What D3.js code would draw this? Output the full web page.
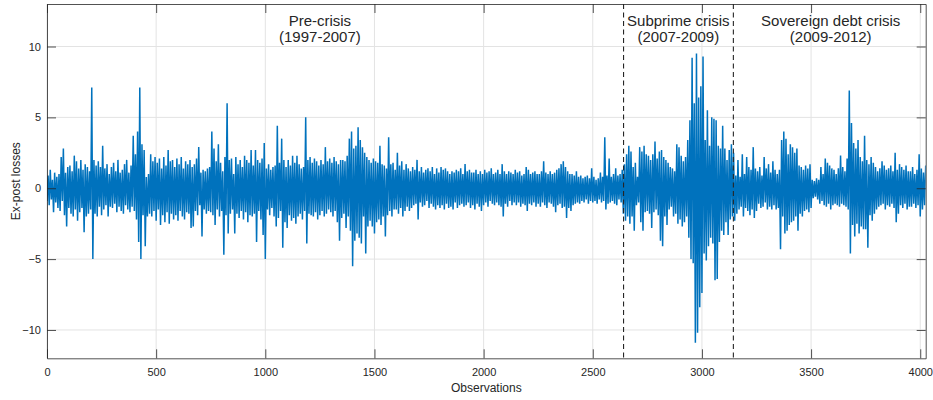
<!DOCTYPE html>
<html>
<head>
<meta charset="utf-8">
<script src="https://cdn.jsdelivr.net/npm/d3@7"></script>
<style>
  body { margin: 0; background: #fff; }
  svg { display: block; }
  text { font-family: "Liberation Sans", Arial, Helvetica, sans-serif; fill: #262626; }
</style>
</head>
<body>
<svg id="chart" width="933" height="400"></svg>
<script>
// Ex-post losses, one value kept every `obsStep` observations
const obsStep = 5;
const losses = [
  -0.9,
  0.9, -1.2, 1.3, -0.8, 0.6, -1.7, 1.1, -1.0, 0.8, -1.4,
  1.0, -1.6, 2.2, -0.9, 2.8, -1.9, 1.1, -2.7, 1.5, -1.4,
  1.6, -1.8, 1.2, -2.0, 2.3, -1.5, 1.9, -2.3, 1.4, -1.7,
  2.0, -1.4, 1.3, -3.1, 1.7, -2.0, 1.5, -1.8, 1.2, -1.5,
  7.1, -5.0, 2.0, -1.8, 1.6, -2.0, 1.9, -1.3, 1.5,
  -1.9, 3.0, -1.5, 1.4, -1.2, 1.7, -2.0, 1.0, -1.3, 1.5,
  -1.4, 1.8, -1.1, 1.2, -1.7, 2.0, -1.3, 1.1, -1.6, 1.3,
  -1.8, 1.7, -1.2, 2.0, -1.5, 1.1, -1.7, 1.6, -1.3, 3.7,
  -1.6, 2.4, -2.2, 4.0, -3.8, 7.1, -5.0, 3.1, -1.9, 2.7,
  -4.1, 0.8, -2.0, 1.0, -1.8, 2.4, -2.0, 1.9, -1.6, 2.2,
  -2.3, 1.8, -1.5, 2.1, -2.6, 1.4, -1.9, 2.2, -2.4, 1.6,
  -1.7, 2.7, -2.5, 1.9, -1.8, 2.0, -2.2, 1.5, -1.9, 2.1,
  -2.3, 1.7, -1.6, 2.2, -2.0, 1.4, -2.2, 1.9, -1.7, 1.7,
  -1.8, 2.0, -2.8, 1.5, -2.7, 1.7, -1.6, 2.1, -1.9, 2.9,
  -1.2, 1.1, -3.4, 1.3, -1.5, 1.2, -1.8, 1.4, -1.6, 1.5,
  -1.7, 4.0, -1.9, 2.8, -2.6, 1.9, -1.5, 3.1, -2.0, 1.8,
  -1.6, 1.2, -4.7, 2.2, -1.9, 6.0, -3.2, 2.0, -1.8, 2.1,
  -1.5, 1.0, -3.2, 2.2, -1.8, 1.7, -2.1, 2.0, -1.6, 1.5,
  -2.2, 2.3, -1.7, 2.0, -2.4, 1.8, -1.9, 2.7, -2.0, 1.6,
  -1.8, 2.7, -3.8, 2.0, -1.6, 1.8, -2.2, 2.1, -3.3, 3.2,
  -5.0, 1.4, -1.5, 1.7, -1.9, 1.3, -1.4, 1.5, -2.0, 1.6,
  -2.7, 4.4, -2.1, 1.8, -1.6, 3.5, -4.2, 2.0, -2.4, 1.5,
  -2.8, 2.0, -1.9, 1.6, -2.3, 2.3, -2.1, 1.8, -2.5, 2.3,
  -2.0, 1.7, -1.8, 1.4, -2.2, 1.5, -1.6, 5.0, -3.9, 2.0,
  -1.8, 2.2, -1.9, 1.8, -2.0, 2.1, -1.7, 1.9, -2.2, 1.6,
  -1.9, 2.0, -1.6, 1.7, -2.0, 2.9, -1.8, 1.9, -1.5, 2.1,
  -1.7, 1.8, -2.0, 2.2, -1.6, 1.9, -2.4, 1.7, -3.7, 2.0,
  -2.1, 2.0, -1.8, 1.9, -2.8, 2.3, -2.0, 3.5, -3.0, 4.0,
  -5.5, 2.8, -3.7, 3.0, -3.2, 4.3, -3.5, 3.4, -3.9, 2.9,
  -2.0, 2.5, -4.6, 2.2, -2.7, 2.0, -2.3, 1.8, -2.7, 2.1,
  -3.2, 1.9, -2.4, 1.8, -2.2, 3.0, -2.6, 1.7, -2.0, 1.6,
  -3.4, 1.4, -1.9, 3.6, -1.6, 1.7, -2.0, 1.8, -1.5, 1.3,
  -1.5, 2.5, -1.8, 1.6, -1.4, 1.9, -2.0, 1.3, -1.6, 1.7,
  -1.3, 1.4, -1.6, 1.2, -1.4, 1.5, -1.2, 1.3, -1.1, 2.0,
  -2.2, 1.2, -1.0, 1.5, -1.3, 1.1, -1.2, 1.3, -0.9, 1.4,
  -1.4, 1.2, -1.1, 1.5, -1.3, 1.0, -1.5, 1.4, -1.2, 1.1,
  -1.4, 1.5, -1.2, 1.3, -1.5, 1.4, -1.1, 1.2, -1.4, 1.0,
  -1.3, 1.2, -1.5, 1.1, -1.0, 1.3, -1.4, 1.2, -1.2, 1.4,
  -1.1, 1.0, -1.3, 1.7, -1.2, 1.2, -1.0, 1.3, -1.4, 1.1,
  -1.2, 1.1, -1.5, 1.3, -1.1, 1.0, -1.3, 1.2, -1.6, 1.0,
  -1.2, 1.3, -1.0, 1.1, -1.3, 1.2, -0.9, 1.4, -1.1, 1.0,
  -1.2, 1.1, -1.0, 1.3, -1.2, 1.0, -1.3, 1.7, -2.0, 1.2,
  -1.1, 1.0, -1.3, 1.2, -0.9, 1.1, -1.2, 1.0, -1.0, 1.3,
  -1.2, 1.1, -1.0, 1.2, -1.3, 0.9, -1.1, 1.0, -1.2, 1.5,
  -1.6, 1.3, -1.1, 1.0, -1.2, 1.1, -1.0, 1.2, -1.3, 1.0,
  -1.1, 1.0, -1.3, 1.2, -1.0, 1.9, -1.2, 1.1, -1.4, 1.0,
  -1.0, 1.2, -1.1, 1.0, -1.3, 1.1, -1.7, 1.3, -1.2, 1.4,
  -1.1, 1.7, -1.4, 1.9, -1.3, 1.5, -2.1, 1.2, -1.4, 1.0,
  -1.6, 1.0, -1.2, 0.9, -1.1, 1.2, -1.0, 0.8, -1.1, 0.9,
  -0.9, 0.7, -1.0, 0.8, -0.8, 0.9, -1.1, 0.7, -0.9, 1.4,
  -1.0, 0.8, -0.9, 0.6, -1.1, 0.7, -0.8, 1.1, -1.0, 0.8,
  -0.9, 3.6, -1.5, 0.9, -1.1, 2.1, -1.0, 0.8, -0.9, 1.0,
  -1.1, 1.4, -1.2, 0.9, -0.8, 1.0, -1.0, 1.3, -1.8, 1.7,
  -2.3, 2.4, -2.0, 3.0, -2.5, 2.6, -2.0, 1.5, -3.0, 1.8,
  -1.2, 0.8, -1.0, 2.9, -2.4, 2.6, -3.0, 3.0, -1.7, 2.4,
  -1.6, 2.3, -1.8, 2.0, -2.8, 2.4, -1.7, 3.3, -1.5, 2.1,
  -1.9, 2.6, -3.7, 2.7, -4.1, 2.2, -2.0, 2.0, -2.6, 1.8,
  -1.5, 1.5, -1.3, 1.4, -2.0, 1.2, -1.8, 3.1, -2.5, 2.9,
  -2.2, 2.3, -2.7, 1.9, -2.4, 2.2, -2.0, 3.4, -3.5, 4.8,
  -5.0,
  9.2, -5.3, 6.0, -10.9, 9.5, -10.2, 6.4, -8.4, 7.2, -7.4,
  9.3, -4.6, 3.4, -5.1, 5.5, -4.1, 3.0, -3.5, 5.0, -3.9,
  4.9, -6.5, 4.8, -6.4, 3.0, -3.8, 2.8, -3.0, 4.4, -3.3,
  2.8, -2.4, 2.0, -3.3, 2.7, -2.2, 3.1, -2.0, 2.5, -2.3,
  0.9, -1.8, 2.0, -1.5, 0.8, -1.3, 2.4, -2.0, 1.0, -1.4,
  2.2, -1.6, 1.5, -1.9, 1.3, -1.5, 2.9, -2.1, 1.4, -1.6,
  1.2, -1.1, 1.5, -1.4, 0.9, -1.3, 2.2, -1.0, 1.4, -1.5,
  1.7, -1.3, 1.1, -1.5, 1.9, -1.2, 1.3, -1.5, 1.0, -1.4,
  1.3, -4.3, 3.4, -2.0, 4.0, -3.2, 3.5, -3.0, 2.4, -2.6,
  3.1, -2.4, 2.9, -2.3, 2.5, -2.0, 2.8, -3.0, 1.6, -1.8,
  1.5, -2.0, 1.3, -1.6, 1.6, -1.5, 1.4, -1.7, 1.7, -1.4,
  0.6, -0.7, 0.5, -0.6, 0.7, -0.8, 0.6, -1.1, 1.5, -0.9,
  1.0, -1.2, 2.1, -1.3, 1.8, -1.1, 1.6, -1.5, 1.4, -1.2,
  1.3, -1.1, 1.0, -1.2, 1.4, -1.3, 2.3, -1.1, 1.5, -1.2,
  1.2, -1.3, 2.1, -1.5, 6.9, -4.6, 4.6, -2.6, 3.2, -3.4,
  2.8, -2.5, 3.4, -3.2, 2.2, -2.7, 1.9, -2.9, 3.7, -2.9,
  2.0, -4.2, 1.7, -1.9, 2.2, -2.3, 1.8, -1.8, 1.5, -1.5,
  1.2, -1.3, 1.4, -1.2, 1.9, -1.1, 1.6, -1.5, 1.3, -1.2,
  1.4, -1.3, 1.6, -1.1, 1.2, -1.4, 2.5, -2.4, 1.3, -1.8,
  1.7, -1.2, 1.5, -1.4, 1.3, -1.1, 1.6, -1.5, 1.2, -1.3,
  1.2, -1.3, 1.5, -1.1, 1.0, -1.4, 1.3, -1.2, 2.4, -2.0,
  1.4, -1.5, 1.1, -1.2, 1.6
];

const xTicks = [0, 500, 1000, 1500, 2000, 2500, 3000, 3500, 4000];
const yTicks = [-10, -5, 0, 5, 10];
const xDomain = [0, 4025];
const yDomain = [-12, 13];

// Observations where the crisis periods begin
const crisisBreaks = [2641, 3144];
const periodNames = ["Pre-crisis", "Subprime crisis", "Sovereign debt crisis"];
const periodYears = ["(1997-2007)", "(2007-2009)", "(2009-2012)"];
const periodLabelAt = [1250, 2892, 3590];

const W = 933, H = 400;
const margin = { left: 47, right: 7.3, top: 4, bottom: 41.7 };
const x0 = margin.left, x1 = W - margin.right;
const y0 = H - margin.bottom, y1 = margin.top;

const x = d3.scaleLinear().domain(xDomain).range([x0, x1]);
const y = d3.scaleLinear().domain(yDomain).range([y0, y1]);

const svg = d3.select("#chart");

svg.append("defs").append("clipPath").attr("id", "plot-clip")
  .append("rect").attr("x", x0).attr("y", y1).attr("width", x1 - x0).attr("height", y0 - y1);

// grid
const grid = svg.append("g").attr("stroke", "#e3e3e3").attr("stroke-width", 1);
grid.selectAll("line.gx").data(xTicks).join("line")
  .attr("x1", d => x(d)).attr("x2", d => x(d)).attr("y1", y1).attr("y2", y0);
grid.selectAll("line.gy").data(yTicks).join("line")
  .attr("x1", x0).attr("x2", x1).attr("y1", d => y(d)).attr("y2", d => y(d));

// series
const series = losses.map((v, i) => ({ obs: i * obsStep, v }));
svg.append("path")
  .datum(series)
  .attr("clip-path", "url(#plot-clip)")
  .attr("fill", "none")
  .attr("stroke", "#0072BD")
  .attr("stroke-width", 1.5)
  .attr("stroke-linejoin", "bevel")
  .attr("d", d3.line().x(d => x(d.obs)).y(d => y(d.v)));

// crisis boundaries
svg.append("g").selectAll("line").data(crisisBreaks).join("line")
  .attr("x1", d => x(d)).attr("x2", d => x(d))
  .attr("y1", y1).attr("y2", y0)
  .attr("stroke", "#262626").attr("stroke-width", 1.1)
  .attr("stroke-dasharray", "5,3.5");

// period labels
const labels = svg.append("g").attr("text-anchor", "middle").style("font-size", "15px");
labels.selectAll("text.name").data(periodNames).join("text")
  .attr("x", (d, i) => x(periodLabelAt[i])).attr("y", 26).text(d => d);
labels.selectAll("text.years").data(periodYears).join("text")
  .attr("x", (d, i) => x(periodLabelAt[i])).attr("y", 42).text(d => d);

// axes with inward ticks on all four sides
function styleAxis(g) {
  g.selectAll(".domain").attr("stroke", "#262626").attr("stroke-width", 0.8);
  g.selectAll(".tick line").attr("stroke", "#262626").attr("stroke-width", 0.8);
  g.selectAll(".tick text").attr("fill", "#262626").style("font-size", "11px")
    .style("font-family", '"Liberation Sans", Arial, Helvetica, sans-serif');
}

const fmt = d3.format("d");
svg.append("g").attr("transform", `translate(0,${y0})`)
  .call(d3.axisBottom(x).tickValues(xTicks).tickFormat(fmt).tickSizeInner(-9).tickSizeOuter(0).tickPadding(10))
  .call(styleAxis);
svg.append("g").attr("transform", `translate(0,${y1})`)
  .call(d3.axisTop(x).tickValues(xTicks).tickSizeInner(-9).tickSizeOuter(0).tickFormat(""))
  .call(styleAxis);
svg.append("g").attr("transform", `translate(${x0},0)`)
  .call(d3.axisLeft(y).tickValues(yTicks).tickFormat(fmt).tickSizeInner(-9).tickSizeOuter(0).tickPadding(6))
  .call(styleAxis);
svg.append("g").attr("transform", `translate(${x1},0)`)
  .call(d3.axisRight(y).tickValues(yTicks).tickSizeInner(-9).tickSizeOuter(0).tickFormat(""))
  .call(styleAxis);

// axis titles
svg.append("text").attr("x", (x0 + x1) / 2).attr("y", 392)
  .attr("text-anchor", "middle").style("font-size", "12px").text("Observations");
svg.append("text").attr("transform", `translate(20,${(y0 + y1) / 2}) rotate(-90)`)
  .attr("text-anchor", "middle").style("font-size", "12px").text("Ex-post losses");
</script>
</body>
</html>
